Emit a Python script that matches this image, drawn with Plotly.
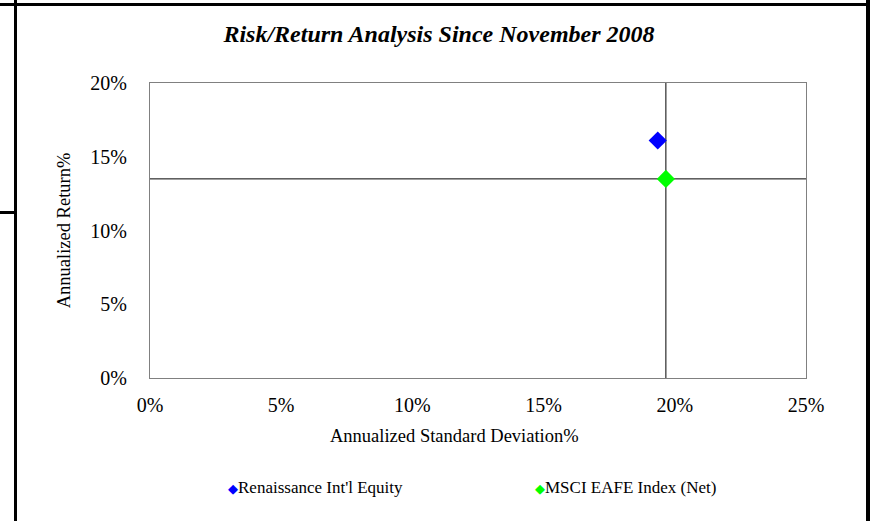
import plotly.graph_objects as go

# Risk / return data (annualized, %)
series_names = ["Renaissance Int'l Equity", "MSCI EAFE Index (Net)"]
std_dev = [19.35, 19.66]
returns = [16.1, 13.5]
colors = ["#0000FF", "#00FF00"]

x_ticks = [0, 5, 10, 15, 20, 25]
y_ticks = [0, 5, 10, 15, 20]
x_tick_labels = [f"{v}%" for v in x_ticks]
y_tick_labels = [f"{v}%" for v in y_ticks]

# benchmark crosshair
bench_x = std_dev[1]
bench_y = returns[1]

FONT = "Liberation Serif, Times New Roman, serif"

fig = go.Figure()

for name, sx, ry, c in zip(series_names, std_dev, returns, colors):
    fig.add_trace(go.Scatter(
        x=[sx], y=[ry], mode="markers", name=name,
        marker=dict(symbol="diamond", size=14, color=c, line=dict(width=0)),
        showlegend=False, cliponaxis=False,
    ))

# crosshair through the benchmark point
fig.add_shape(type="line", xref="x", yref="y domain", x0=bench_x, x1=bench_x, y0=0, y1=1,
              line=dict(color="black", width=1), layer="below")
fig.add_shape(type="line", xref="x domain", yref="y", x0=0, x1=1, y0=bench_y, y1=bench_y,
              line=dict(color="black", width=1), layer="below")

# page frame lines around the chart
L, T, W, H = 150, 83, 656, 295
def px(xp):
    return (xp - L) / W
def py(yp):
    return (T + H - yp) / H

frame = dict(color="black", width=3)
fig.add_shape(type="line", xref="paper", yref="paper", x0=px(0), x1=px(868), y0=py(4.5), y1=py(4.5), line=frame)
fig.add_shape(type="line", xref="paper", yref="paper", x0=px(15.5), x1=px(15.5), y0=py(0), y1=py(521), line=frame)
fig.add_shape(type="line", xref="paper", yref="paper", x0=px(868), x1=px(868), y0=py(0), y1=py(521),
              line=dict(color="black", width=4))
fig.add_shape(type="line", xref="paper", yref="paper", x0=px(0), x1=px(15.5), y0=py(212.5), y1=py(212.5), line=frame)

# x axis title, placed left of the plot centre
fig.add_annotation(xref="paper", yref="paper", x=px(454), y=py(436), xanchor="center", yanchor="middle",
                   text="Annualized Standard Deviation%", showarrow=False,
                   font=dict(family=FONT, size=18.5, color="black"))

# legend drawn as text entries
legend_x = [233, 540]
for name, c, lx in zip(series_names, colors, legend_x):
    fig.add_annotation(
        xref="paper", yref="paper", x=px(lx - 7), y=py(488), xanchor="left", yanchor="middle",
        text=f'<span style="color:{c}; font-family:DejaVu Sans; font-size:13px">◆</span>{name}',
        showarrow=False, font=dict(family=FONT, size=17, color="black"),
    )

fig.update_layout(
    width=871, height=521,
    margin=dict(l=L, r=871 - L - W, t=T, b=521 - T - H),
    paper_bgcolor="white", plot_bgcolor="white",
    font=dict(family=FONT, color="black"),
    title=dict(text="<b><i>Risk/Return Analysis Since November 2008</i></b>",
               x=px(439), xanchor="center", y=1 - 34 / 521, yanchor="middle",
               xref="paper", font=dict(family=FONT, size=24, color="black")),
    xaxis=dict(range=[0, 25], tickvals=x_ticks, ticktext=x_tick_labels,
               showgrid=False, zeroline=False, showline=True, mirror=True,
               linecolor="#808080", linewidth=1, ticks="",
               tickfont=dict(family=FONT, size=20), ticklabelstandoff=9),
    yaxis=dict(range=[0, 20], tickvals=y_ticks, ticktext=y_tick_labels,
               showgrid=False, zeroline=False, showline=True, mirror=True,
               linecolor="#808080", linewidth=1, ticks="",
               tickfont=dict(family=FONT, size=20), ticklabelstandoff=18,
               title=dict(text="Annualized Return%", font=dict(family=FONT, size=18.5), standoff=14)),
)

fig.write_html("out.html")
